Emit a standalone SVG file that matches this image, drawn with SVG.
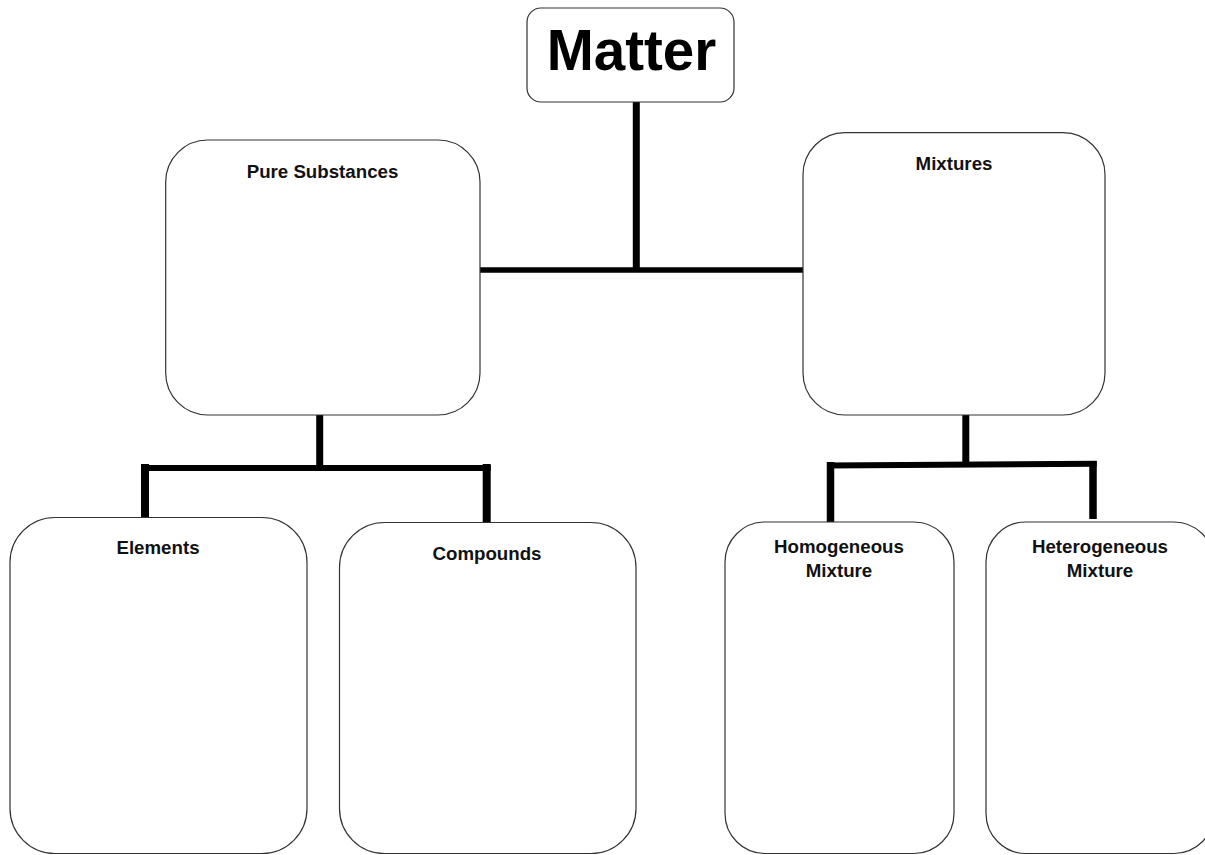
<svg xmlns="http://www.w3.org/2000/svg" width="1205" height="855" viewBox="0 0 1205 855">
<style>
.box{fill:#fff;stroke:#333;stroke-width:1.2}
.lbl{font-family:"Liberation Sans",Arial,sans-serif;font-weight:bold;font-size:18.7px;fill:#111;text-anchor:middle}
.title{font-family:"Liberation Sans",Arial,sans-serif;font-weight:bold;font-size:56.5px;fill:#000;text-anchor:middle}
.conn{stroke:#000;fill:none;stroke-linecap:butt}
</style>
<rect width="1205" height="855" fill="#fff"/>
<g id="connectors">
<line class="conn" x1="636.3" y1="101" x2="636.3" y2="270" stroke-width="7"/>
<line class="conn" x1="479" y1="270" x2="803" y2="270" stroke-width="5.5"/>
<line class="conn" x1="319.7" y1="415" x2="319.7" y2="466" stroke-width="7"/>
<line class="conn" x1="141" y1="468" x2="490.7" y2="468" stroke-width="6"/>
<line class="conn" x1="145" y1="464" x2="145" y2="517.5" stroke-width="8"/>
<line class="conn" x1="486.7" y1="464" x2="486.7" y2="523" stroke-width="8"/>
<line class="conn" x1="965.8" y1="415" x2="965.8" y2="464" stroke-width="7"/>
<line class="conn" x1="827" y1="465.5" x2="1096.7" y2="463.8" stroke-width="6"/>
<line class="conn" x1="830.5" y1="462" x2="830.5" y2="522" stroke-width="7.5"/>
<line class="conn" x1="1093" y1="461" x2="1093" y2="519" stroke-width="7.5"/>
</g>
<g id="matter">
<rect class="box" x="527" y="8" width="207" height="94" rx="14"/>
<text class="title" x="631.5" y="70">Matter</text>
</g>
<g id="pure-substances">
<rect class="box" x="165.7" y="140" width="314.3" height="275" rx="42"/>
<text class="lbl" x="322.5" y="178">Pure Substances</text>
</g>
<g id="mixtures">
<rect class="box" x="803" y="132.7" width="302" height="282.3" rx="42"/>
<text class="lbl" x="954" y="170">Mixtures</text>
</g>
<g id="elements">
<rect class="box" x="10" y="517.5" width="297" height="336" rx="45"/>
<text class="lbl" x="158" y="554">Elements</text>
</g>
<g id="compounds">
<rect class="box" x="339.5" y="522.5" width="296.5" height="331" rx="45"/>
<text class="lbl" x="487" y="560">Compounds</text>
</g>
<g id="homogeneous-mixture">
<rect class="box" x="725" y="522" width="229" height="331.5" rx="40"/>
<text class="lbl" x="839" y="553">Homogeneous</text>
<text class="lbl" x="839" y="577">Mixture</text>
</g>
<g id="heterogeneous-mixture">
<rect class="box" x="986" y="522" width="228" height="331.5" rx="40"/>
<text class="lbl" x="1100" y="553">Heterogeneous</text>
<text class="lbl" x="1100" y="577">Mixture</text>
</g>
</svg>
